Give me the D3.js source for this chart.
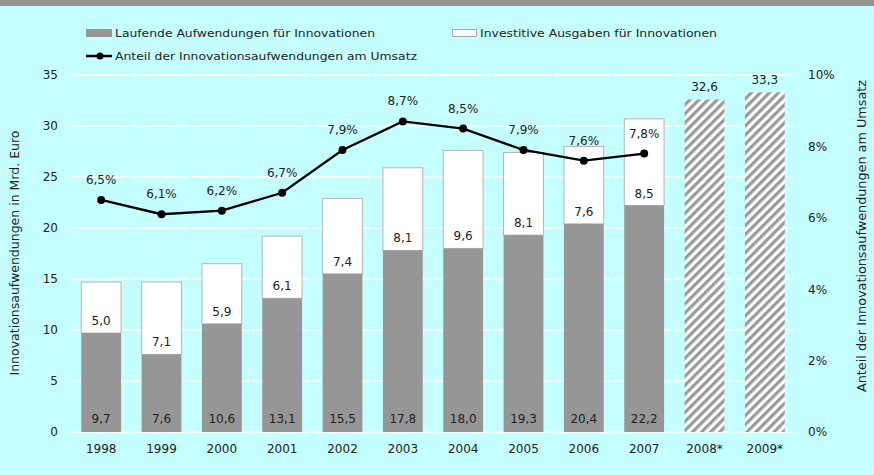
<html>
<head>
<meta charset="utf-8">
<script src="https://d3js.org/d3.v7.min.js"></script>
<style>
  body { margin: 0; }
  text { font-family: "DejaVu Sans", Verdana, sans-serif; fill: #222; }
</style>
</head>
<body>
<svg id="chart" width="874" height="475"></svg>
<script>
var years = ["1998","1999","2000","2001","2002","2003","2004","2005","2006","2007","2008*","2009*"];
var laufende = [9.7, 7.6, 10.6, 13.1, 15.5, 17.8, 18.0, 19.3, 20.4, 22.2];
var investive = [5.0, 7.1, 5.9, 6.1, 7.4, 8.1, 9.6, 8.1, 7.6, 8.5];
var anteil = [6.5, 6.1, 6.2, 6.7, 7.9, 8.7, 8.5, 7.9, 7.6, 7.8];
var prognose = [32.6, 33.3];
var leftTicks = [0, 5, 10, 15, 20, 25, 30, 35];
var rightTicks = [0, 2, 4, 6, 8, 10];

var plotLeft = 71, plotRight = 795, plotTop = 75, plotBottom = 432;
var svg = d3.select("#chart");
var fmt = function(v) { return d3.format(".1f")(v).replace(".", ","); };

svg.append("rect").attr("width", 874).attr("height", 475).attr("fill", "#c6ffff");
svg.append("rect").attr("width", 874).attr("height", 6).attr("fill", "#939393");

var x = d3.scaleBand().domain(years).range([plotLeft, plotRight]).paddingInner(0.34).paddingOuter(0.17);
var band = d3.scaleBand().domain(years).range([plotLeft, plotRight]);
var y = d3.scaleLinear().domain([0, 35]).range([plotBottom, plotTop]);
var y2 = d3.scaleLinear().domain([0, 10]).range([plotBottom, plotTop]);

var defs = svg.append("defs");
var pat = defs.append("pattern").attr("id", "hatch").attr("patternUnits", "userSpaceOnUse")
  .attr("width", 6.4).attr("height", 6.4).attr("patternTransform", "rotate(45)");
pat.append("rect").attr("width", 6.4).attr("height", 6.4).attr("fill", "#fff");
pat.append("rect").attr("width", 3.2).attr("height", 6.4).attr("fill", "#9a9a9a");

// gridlines
svg.append("g").selectAll("line").data(leftTicks).join("line")
  .attr("x1", plotLeft).attr("x2", plotRight)
  .attr("y1", function(d){ return y(d); }).attr("y2", function(d){ return y(d); })
  .attr("stroke", "#fff").attr("stroke-width", 1.5)
  .attr("stroke-dasharray", (band.bandwidth() - 2.5) + "," + 2.5);

// axes
var yAxis = d3.axisLeft(y).tickValues(leftTicks).tickSize(0).tickPadding(13);
var gl = svg.append("g").attr("transform", "translate(" + plotLeft + ",0)").call(yAxis);
var yAxis2 = d3.axisRight(y2).tickValues(rightTicks).tickSize(0).tickPadding(13)
  .tickFormat(function(d){ return d + "%"; });
var gr = svg.append("g").attr("transform", "translate(" + plotRight + ",0)").call(yAxis2);
var xAxis = d3.axisBottom(x).tickSize(0).tickPadding(12);
var gx = svg.append("g").attr("transform", "translate(0," + plotBottom + ")").call(xAxis);
[gl, gr, gx].forEach(function(g){
  g.select(".domain").remove();
  g.selectAll("text").style("font-family", "DejaVu Sans, Verdana, sans-serif").style("font-size", "12px").attr("fill", "#222");
});

var hist = years.slice(0, laufende.length);

// stacked bars
var bars = svg.append("g");
bars.selectAll(".inv").data(hist).join("rect")
  .attr("x", function(d){ return x(d); })
  .attr("width", x.bandwidth())
  .attr("y", function(d, i){ return y(laufende[i] + investive[i]); })
  .attr("height", function(d, i){ return y(laufende[i]) - y(laufende[i] + investive[i]); })
  .attr("fill", "#fff").attr("stroke", "#b4b4b4").attr("stroke-width", 1);
bars.selectAll(".lauf").data(hist).join("rect")
  .attr("x", function(d){ return x(d); })
  .attr("width", x.bandwidth())
  .attr("y", function(d, i){ return y(laufende[i]); })
  .attr("height", function(d, i){ return y(0) - y(laufende[i]); })
  .attr("fill", "#969696");

// forecast bars
var fc = years.slice(laufende.length);
bars.selectAll(".fc").data(fc).join("rect")
  .attr("x", function(d){ return x(d); })
  .attr("width", x.bandwidth())
  .attr("y", function(d, i){ return y(prognose[i]); })
  .attr("height", function(d, i){ return y(0) - y(prognose[i]); })
  .attr("fill", "url(#hatch)");

// bar labels
var labels = svg.append("g").attr("text-anchor", "middle").style("font-size", "12px");
labels.selectAll(".l1").data(hist).join("text")
  .attr("x", function(d){ return x(d) + x.bandwidth() / 2; })
  .attr("y", y(0) - 9)
  .text(function(d, i){ return fmt(laufende[i]); });
labels.selectAll(".l2").data(hist).join("text")
  .attr("x", function(d){ return x(d) + x.bandwidth() / 2; })
  .attr("y", function(d, i){ return y(laufende[i]) - 8; })
  .text(function(d, i){ return fmt(investive[i]); });
labels.selectAll(".l3").data(fc).join("text")
  .attr("x", function(d){ return x(d) + x.bandwidth() / 2; })
  .attr("y", function(d, i){ return y(prognose[i]) - 8; })
  .text(function(d, i){ return fmt(prognose[i]); });

// line
var line = d3.line()
  .x(function(d, i){ return x(hist[i]) + x.bandwidth() / 2; })
  .y(function(d){ return y2(d); });
svg.append("path").attr("d", line(anteil)).attr("fill", "none")
  .attr("stroke", "#000").attr("stroke-width", 2.3);
svg.append("g").selectAll("circle").data(anteil).join("circle")
  .attr("cx", function(d, i){ return x(hist[i]) + x.bandwidth() / 2; })
  .attr("cy", function(d){ return y2(d); })
  .attr("r", 4).attr("fill", "#000");
labels.selectAll(".l4").data(anteil).join("text")
  .attr("x", function(d, i){ return x(hist[i]) + x.bandwidth() / 2; })
  .attr("y", function(d){ return y2(d) - 16; })
  .text(function(d){ return fmt(d) + "%"; });

// axis titles
svg.append("text").attr("transform", "translate(19,253) rotate(-90)")
  .attr("text-anchor", "middle").style("font-size", "12px")
  .attr("textLength", 245).attr("lengthAdjust", "spacingAndGlyphs")
  .text("Innovationsaufwendungen in Mrd. Euro");
svg.append("text").attr("transform", "translate(866,236) rotate(-90)")
  .attr("text-anchor", "middle").style("font-size", "12px")
  .attr("textLength", 312).attr("lengthAdjust", "spacingAndGlyphs")
  .text("Anteil der Innovationsaufwendungen am Umsatz");

// legend
var lg = svg.append("g").style("font-size", "11px");
lg.append("rect").attr("x", 86).attr("y", 29).attr("width", 26).attr("height", 8).attr("fill", "#969696");
lg.append("text").attr("x", 115).attr("y", 37).attr("textLength", 260).attr("lengthAdjust", "spacingAndGlyphs")
  .text("Laufende Aufwendungen für Innovationen");
lg.append("rect").attr("x", 452.5).attr("y", 29.5).attr("width", 24).attr("height", 7).attr("fill", "#fff").attr("stroke", "#aaa");
lg.append("text").attr("x", 480).attr("y", 37).attr("textLength", 237).attr("lengthAdjust", "spacingAndGlyphs")
  .text("Investitive Ausgaben für Innovationen");
lg.append("line").attr("x1", 86).attr("x2", 112).attr("y1", 56).attr("y2", 56).attr("stroke", "#000").attr("stroke-width", 2.5);
lg.append("circle").attr("cx", 100).attr("cy", 56).attr("r", 3.5).attr("fill", "#000");
lg.append("text").attr("x", 115).attr("y", 60).attr("textLength", 302).attr("lengthAdjust", "spacingAndGlyphs")
  .text("Anteil der Innovationsaufwendungen am Umsatz");
</script>
</body>
</html>
